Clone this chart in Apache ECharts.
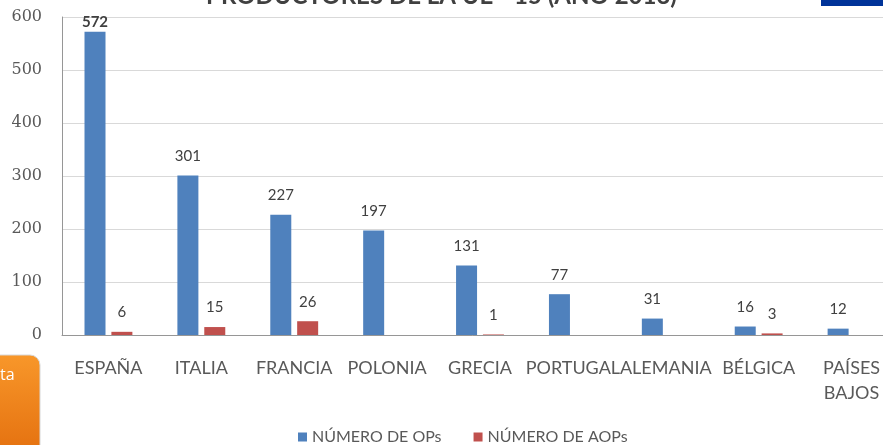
<!DOCTYPE html>
<html>
<head>
<meta charset="utf-8">
<script src="https://cdn.jsdelivr.net/npm/echarts@6/dist/echarts.min.js"></script>
<style>
html,body{margin:0;padding:0;background:#fff;}
#c{width:883px;height:445px;}
</style>
</head>
<body>
<div id="c"></div>
<script>
const categories = ['ESPAÑA','ITALIA','FRANCIA','POLONIA','GRECIA','PORTUGAL','ALEMANIA','BÉLGICA','PAÍSES BAJOS'];
const opsValues = [572, 301, 227, 197, 131, 77, 31, 16, 12];
const aopsValues = [6, 15, 26, null, 1, null, null, 3, null];
const yTicks = [0, 100, 200, 300, 400, 500, 600];
const seriesNames = ['NÚMERO DE OPs', 'NÚMERO DE AOPs'];
const titleText = 'PRODUCTORES DE LA UE - 15 (AÑO 2013)';
const sideText = 'ta';

const chart = echarts.init(document.getElementById('c'));
const labelFont = 'Lato, "Open Sans", sans-serif';
const yMax = yTicks[yTicks.length - 1];
const opsMax = Math.max(...opsValues);

const opsData = opsValues.map(v => (v === opsMax)
  ? { value: v, label: { fontWeight: 'bold', distance: 2 } }
  : v);

chart.setOption({
  animation: false,
  backgroundColor: '#ffffff',
  grid: { left: 62, right: -15, top: 17, bottom: 110, containLabel: false, outerBoundsMode: 'none' },
  graphic: [
    { type: 'text', left: 'center', top: -16, z: 10,
      style: { text: titleText, font: 'bold 24px Lato, sans-serif', fill: '#404040' } },
    { type: 'rect', shape: { x: 821, y: 0, width: 70, height: 6 }, style: { fill: '#003399' } },
    { type: 'rect', shape: { x: -20, y: 355, width: 60, height: 100, r: [0, 10, 0, 0] },
      style: { fill: new echarts.graphic.LinearGradient(0, 0, 0, 1, [
        { offset: 0, color: '#F8972A' }, { offset: 1, color: '#E4700F' }]),
        stroke: '#d8d8d8', lineWidth: 1 } },
    { type: 'text', x: 0, y: 367, style: { text: sideText, font: '16px "Open Sans", sans-serif', fill: '#ffffff' } }
  ],
  legend: {
    data: seriesNames,
    top: 424,
    left: 293,
    icon: 'rect',
    itemWidth: 9,
    itemHeight: 9,
    itemGap: 32,
    textStyle: { fontFamily: labelFont, fontSize: 16, color: '#595959' }
  },
  xAxis: {
    type: 'category',
    data: categories,
    axisTick: { show: false },
    axisLine: { lineStyle: { color: '#969696', width: 1 } },
    axisLabel: {
      interval: 0,
      margin: 21,
      fontFamily: labelFont,
      fontSize: 18,
      color: '#595959',
      lineHeight: 25,
      hideOverlap: false,
      formatter: v => v.replace(' ', '\n')
    }
  },
  yAxis: {
    type: 'value',
    min: yTicks[0],
    max: yMax,
    interval: yTicks[1] - yTicks[0],
    axisLine: { show: true, lineStyle: { color: '#969696', width: 1 } },
    axisTick: { show: false },
    splitLine: { lineStyle: { color: '#D9D9D9' } },
    axisLabel: { margin: 20, fontFamily: '"DejaVu Serif", serif', fontSize: 16, color: '#595959' }
  },
  series: [
    {
      name: seriesNames[0],
      type: 'bar',
      data: opsData,
      barWidth: 21,
      barGap: '28%',
      itemStyle: { color: '#4F81BD' },
      label: { show: true, position: 'top', distance: 12, fontFamily: labelFont, fontSize: 15, color: '#404040' }
    },
    {
      name: seriesNames[1],
      type: 'bar',
      data: aopsValues,
      barWidth: 21,
      itemStyle: { color: '#C0504D' },
      label: { show: true, position: 'top', distance: 12, fontFamily: labelFont, fontSize: 15, color: '#404040' }
    }
  ]
});
</script>
</body>
</html>
